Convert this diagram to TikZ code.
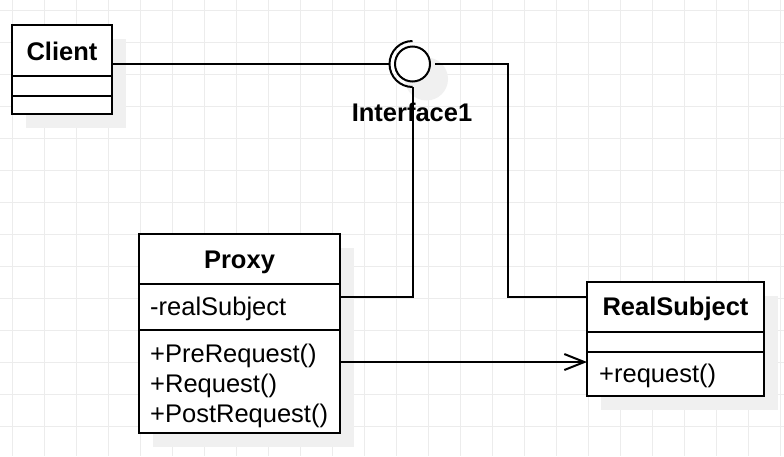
\documentclass[tikz,border=0pt]{standalone}
\usepackage{fontspec}
\setmainfont{Liberation Sans}
\usetikzlibrary{arrows.meta}
\definecolor{gridc}{RGB}{236,236,236}
\definecolor{shadowc}{RGB}{240,240,240}
\begin{document}
\begin{tikzpicture}[x=1pt,y=-1pt, line join=miter,
  box/.style={draw=black, line width=2pt, fill=white, inner sep=0pt, outer sep=0pt, anchor=north west},
  shd/.style={fill=shadowc, draw=none, inner sep=0pt, outer sep=0pt, anchor=north west},
  ttl/.style={font=\fontsize{25.5}{30}\selectfont\bfseries, anchor=base, inner sep=0pt},
  txt/.style={font=\fontsize{25.5}{30}\selectfont, anchor=base west, inner sep=0pt},
  conn/.style={line width=2pt},
  gridline/.style={draw=gridc, line width=1pt}]
\useasboundingbox (0,0) rectangle (784,456);
\fill[white] (0,0) rectangle (784,456);
% grid
\foreach \i in {0,...,24} \draw[gridline] ({12+32*\i},0) -- ({12+32*\i},456);
\foreach \j in {0,...,14} \draw[gridline] (0,{10+32*\j}) -- (784,{10+32*\j});
% shadows
\node[shd, minimum width=100pt, minimum height=89pt] (clientS) at (26,39) {};
\node[shd, minimum width=201pt, minimum height=199pt] (proxyS) at (153,248) {};
\node[shd, minimum width=177pt, minimum height=114pt] (rsS) at (601,296) {};
\fill[shadowc] (426.5,79) circle[radius=21.5];
% boxes
\node[box, minimum width=100pt, minimum height=89pt] (client) at (12,25) {};
\draw[conn] (12,76) -- (112,76);
\draw[conn] (12,96) -- (112,96);
\node[ttl] (clientT) at (62,60.5) {Client};
\node[box, minimum width=201pt, minimum height=199pt] (proxy) at (139,234) {};
\draw[conn] (139,284) -- (340,284);
\draw[conn] (139,330) -- (340,330);
\node[ttl] (proxyT) at (239.5,268) {Proxy};
\node[txt] (pattr) at (150,315) {-realSubject};
\node[txt] (pm1) at (150,362) {+PreRequest()};
\node[txt] (pm2) at (150,392) {+Request()};
\node[txt] (pm3) at (150,422) {+PostRequest()};
\node[box, minimum width=177pt, minimum height=114pt] (rs) at (587,282) {};
\draw[conn] (587,331.5) -- (764,331.5);
\draw[conn] (587,351.5) -- (764,351.5);
\node[ttl] (rsT) at (675.5,315) {RealSubject};
\node[txt] (rsm) at (599,382) {+request()};
% lollipop interface
\coordinate (sockW) at (389.5,64);
\coordinate (sockS) at (412.5,87);
\coordinate (ballR) at (435,64);
\coordinate (pa) at (340,297);
\coordinate (bend) at (508,297);
\coordinate (rsA) at (587,297);
\coordinate (pm) at (340,362);
\draw[conn] (client.east |- sockW) -- (sockW);
\draw[conn] (pa) -| (sockS);
\draw[conn] (ballR) -| (bend) -- (rsA);
\draw[conn] (sockS) arc[start angle=90, end angle=270, radius=23];
\node[circle, draw=black, line width=2pt, fill=white, minimum size=35pt, inner sep=0pt] (ball) at (412.5,64) {};
\node[ttl] (ifT) at (412,121.5) {Interface1};
% association arrow
\draw[conn, -{Straight Barb[length=20pt, width=16pt]}] (pm) -- (rs.west |- pm);
\end{tikzpicture}
\end{document}
